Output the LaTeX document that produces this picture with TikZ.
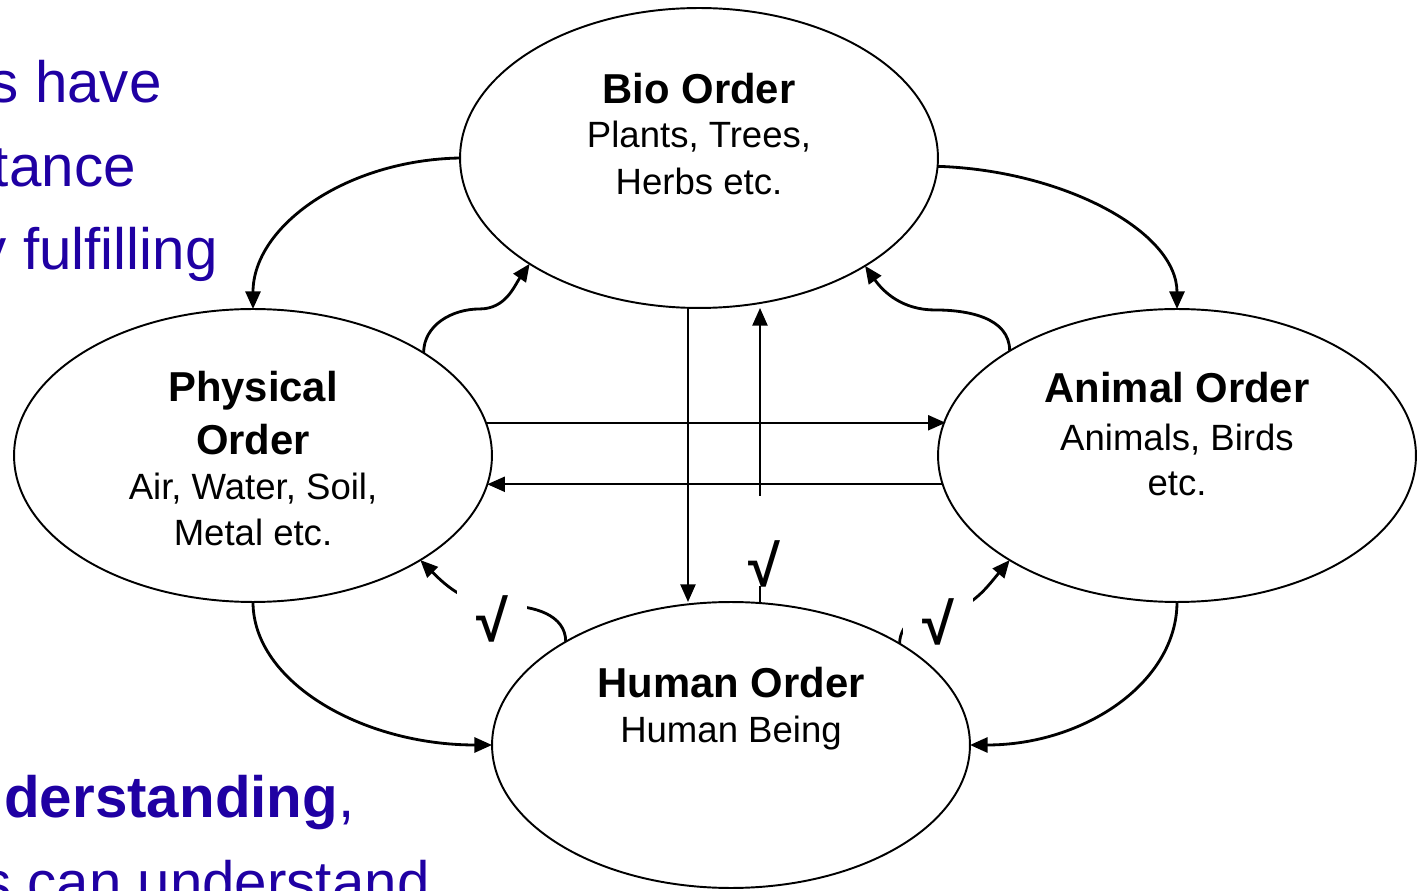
\documentclass[tikz,border=0pt]{standalone}
\usepackage{fontspec}
\setmainfont{Liberation Sans}
\usetikzlibrary{shapes.geometric,arrows.meta,calc}
\definecolor{ublue}{RGB}{31,0,163}
\begin{document}
\begin{tikzpicture}[x=0.02cm,y=-0.02cm,
  ell/.style={ellipse, draw, line width=1.1pt, minimum width=9.56cm, inner sep=0pt, outer sep=0pt},
  ttl/.style={font=\bfseries\fontsize{23.8}{28}\selectfont, anchor=base, inner sep=0pt},
  sub/.style={font=\fontsize{20.8}{25}\selectfont, anchor=base, inner sep=0pt},
  tip/.style={-{Triangle[length=10pt,width=8.5pt]}},
  con/.style={line width=1.6pt, tip},
  hl/.style={line width=1.3pt, tip},
  chk/.style={fill=white, font=\bfseries\fontsize{33}{36}\selectfont, anchor=base, inner sep=0pt, minimum width=1.4cm, text height=51pt, text depth=0pt},
  bl/.style={text=ublue, font=\fontsize{33.2}{40}\selectfont, inner sep=0pt}]
\useasboundingbox (0,0) rectangle (1420,891);
\clip (0,0) rectangle (1420,891);

% left blue text (cut off by the page edge)
\node[bl, anchor=base east] (b1) at (162,103) {Plants have};
\node[bl, anchor=base east] (b2) at (136,187) {importance};
\node[bl, anchor=base east] (b3) at (218,270) {by fulfilling};
\node[bl, anchor=base west] (b4) at (4,817) {\textbf{derstanding},};
\node[bl, anchor=base east] (b5) at (430,902) {Humans can understand};

% ellipses
\node[ell, minimum height=6cm] (bio) at (699,158) {};
\node[ell, minimum height=5.86cm] (phys) at (253,455.5) {};
\node[ell, minimum height=5.86cm] (anim) at (1177,455.5) {};
\node[ell, minimum height=5.72cm] (hum) at (731,745) {};

% texts
\node[ttl] (bioA) at (699,104) {Bio Order};
\node[sub] (bioB) at (699,148) {Plants, Trees,};
\node[sub] (bioC) at (699,195) {Herbs etc.};
\node[ttl] (phyA) at (253,402) {Physical};
\node[ttl] (phyB) at (253,455) {Order};
\node[sub] (phyC) at (253,500) {Air, Water, Soil,};
\node[sub] (phyD) at (253,546) {Metal etc.};
\node[ttl] (aniA) at (1177,403) {Animal Order};
\node[sub] (aniB) at (1177,451) {Animals, Birds};
\node[sub] (aniC) at (1177,496) {etc.};
\node[ttl] (humA) at (731,697) {Human Order};
\node[sub] (humB) at (731,742) {Human Being};

% outer curved connectors
\draw[con] (bio.west) .. controls +(-114,2) and +(0,-83) .. (phys.north);
\draw[con] (bio.-2) .. controls +(125,4) and +(0,-78) .. (anim.north);
\draw[con] (phys.south) .. controls +(0,80) and +(-130,0) .. (hum.west);
\draw[con] (anim.south) .. controls +(0,80) and +(115,0) .. (hum.east);

% S-shaped connectors into Bio Order
\draw[con] (phys.31.4) to[out=90,in=180] ($(phys.31.4)+(56,-44)$) to[out=0,in=-125] (bio.212.9);
\draw[con] (anim.148.3) to[out=90,in=0] ($(anim.148.3)+(-75,-41)$) to[out=180,in=-55] (bio.327.4);

% horizontal connectors
\draw[hl] (phys.8.2) -- (phys.8.2 -| anim.171.8);
\draw[hl] (anim.187.4) -- (anim.187.4 -| phys.-7.4);

% vertical connectors
\coordinate (v1) at ($(bio.south)+(-11,0)$);
\coordinate (v2) at ($(hum.north)+(29,0)$);
\draw[hl] (v1) -- (v1 |- hum.north);
\draw[hl] (v2) -- (v2 |- bio.south);

% S-shaped connectors from Human Order
\draw[con] (hum.148.6) to[out=90,in=0] ($(hum.148.6)+(-60,-36)$) to[out=180,in=-45] (phys.328.1);
\draw[con] (hum.31.4) to[out=90,in=180] ($(hum.31.4)+(32,-30)$) to[out=0,in=-130] (anim.212.3);

% check marks
\node[chk] (c1) at (764,586) {√};
\node[chk] (c2) at (492,642) {√};
\node[chk] (c3) at (938,644) {√};
\end{tikzpicture}
\end{document}
